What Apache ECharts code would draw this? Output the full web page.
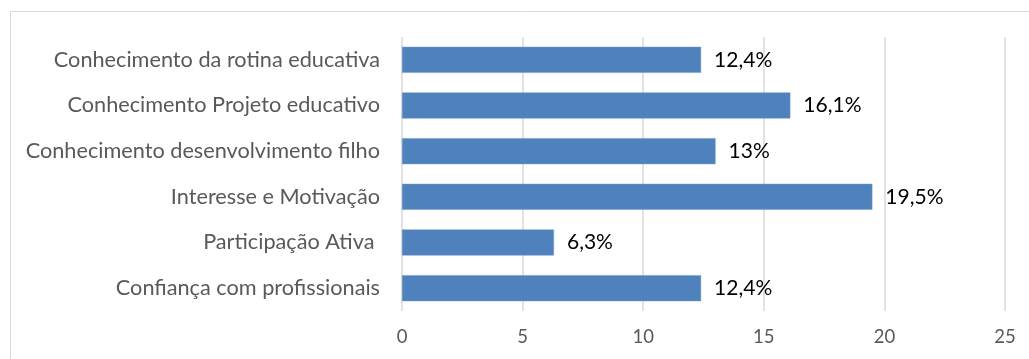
<!DOCTYPE html>
<html>
<head>
<meta charset="utf-8">
<style>
  html, body { margin: 0; padding: 0; background: #fff; }
  #chart { width: 1029px; height: 359px; }
</style>
<script src="https://cdn.jsdelivr.net/npm/echarts@6/dist/echarts.min.js"></script>
</head>
<body>
<div id="chart"></div>
<script>
// Categories listed top to bottom
const categories = [
  'Conhecimento da rotina educativa',
  'Conhecimento Projeto educativo',
  'Conhecimento desenvolvimento filho',
  'Interesse e Motivação',
  'Participação Ativa ',
  'Confiança com profissionais'
];
const values = [12.4, 16.1, 13, 19.5, 6.3, 12.4];
const valueLabels = ['12,4%', '16,1%', '13%', '19,5%', '6,3%', '12,4%'];

const FONT = 'Lato, "Open Sans", sans-serif';

const chart = echarts.init(document.getElementById('chart'), null, { renderer: 'canvas' });
chart.setOption({
  animation: false,
  backgroundColor: '#ffffff',
  graphic: [{
    type: 'rect',
    shape: { x: 10.5, y: 11.5, width: 1040, height: 400 },
    style: { fill: 'none', stroke: '#d9d9d9', lineWidth: 1 },
    silent: true
  }],
  grid: { left: 402, right: 24, top: 37, bottom: 48, containLabel: false },
  xAxis: {
    type: 'value',
    min: 0, max: 25, interval: 5,
    axisLine: { show: false },
    axisTick: { show: false },
    axisLabel: { color: '#595959', fontSize: 18.5, fontFamily: FONT, margin: 17 },
    splitLine: { show: true, lineStyle: { color: '#d9d9d9', width: 1.5 } }
  },
  yAxis: {
    type: 'category',
    data: categories,
    inverse: true,
    axisLine: { show: false },
    axisTick: { show: false },
    axisLabel: { color: '#595959', fontSize: 21.7, fontFamily: FONT, margin: 22 }
  },
  series: [{
    type: 'bar',
    data: values,
    barWidth: 26,
    itemStyle: { color: '#4f81bd', borderColor: '#6d97cc', borderWidth: 0.5 },
    label: {
      show: true,
      position: 'right',
      distance: 13,
      color: '#000000',
      fontSize: 21,
      fontFamily: FONT,
      formatter: p => valueLabels[p.dataIndex]
    }
  }]
});
</script>
</body>
</html>
